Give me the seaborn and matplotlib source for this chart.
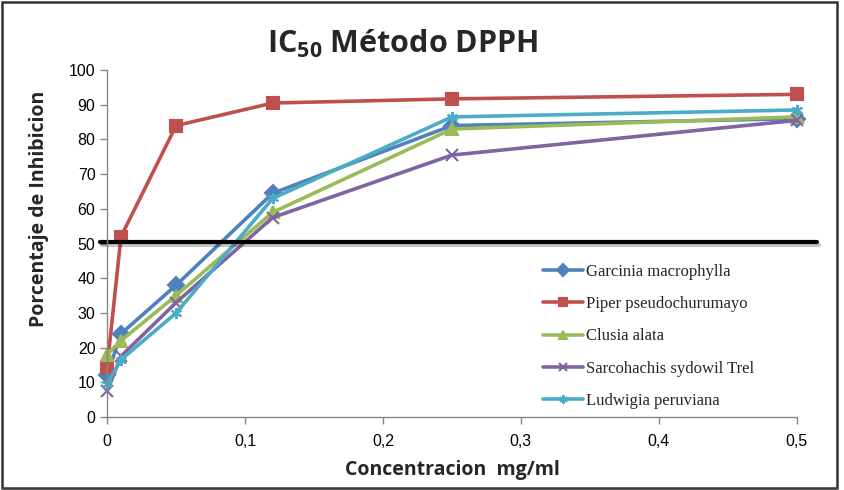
import matplotlib
matplotlib.use('Agg')
import matplotlib.pyplot as plt
import matplotlib.patheffects as pe
import seaborn as sns
import pandas as pd

# concentrations (mg/ml) and % inhibition
conc = [0, 0.01, 0.05, 0.12, 0.25, 0.5]
garcinia = [12, 24, 38, 64.5, 84, 86]
piper = [14.5, 52, 84, 90.5, 91.7, 93]
clusia = [18, 22, 35, 59, 83, 86.5]
sarcohachis = [7.5, 17.5, 33, 57.5, 75.5, 85.5]
ludwigia = [9.5, 16.5, 30, 63, 86.5, 88.5]
species = ["Garcinia macrophylla", "Piper pseudochurumayo", "Clusia alata",
           "Sarcohachis sydowil Trel", "Ludwigia peruviana"]
threshold = 50.5

colors = ["#4F81BD", "#C0504D", "#9BBB59", "#8064A2", "#4BACC6"]
markers = ["D", "s", "^", "x", (6, 2, 0)]

sns.set_theme(style="white")
plt.rcParams['font.family'] = ['Liberation Sans', 'DejaVu Sans']
plt.rcParams['mathtext.fontset'] = 'custom'
plt.rcParams['mathtext.rm'] = 'Open Sans:bold'
plt.rcParams['mathtext.bf'] = 'Open Sans:bold'

fig = plt.figure(figsize=(8.44, 4.9), dpi=100)
ax = fig.add_axes([0.127, 0.149, 0.817, 0.708])

for name, vals, col, mk in zip(species, [garcinia, piper, clusia, sarcohachis, ludwigia],
                               colors, markers):
    d = pd.DataFrame({"Concentracion": conc, "Inhibicion": vals})
    sns.lineplot(data=d, x="Concentracion", y="Inhibicion", color=col, marker=mk,
                 linewidth=2.6, markersize=8, markeredgewidth=1.5,
                 markeredgecolor=col, label=name, ax=ax, clip_on=False)

ax.axhline(threshold, xmin=-0.01, xmax=1.03, color="black", lw=3, clip_on=False,
           path_effects=[pe.SimpleLineShadow(offset=(1, -2), alpha=0.25), pe.Normal()])

ax.set_xlim(0, 0.5)
ax.set_ylim(0, 100)
ax.set_xticks([0, 0.1, 0.2, 0.3, 0.4, 0.5])
ax.set_xticklabels(["0", "0,1", "0,2", "0,3", "0,4", "0,5"])
ax.set_yticks(range(0, 101, 10))
ax.tick_params(axis='both', labelsize=11.5, labelcolor="black", color="#868686",
               length=5, width=1, direction='out', bottom=True, left=True)
ax.tick_params(axis='x', pad=7)
for s in ["top", "right"]:
    ax.spines[s].set_visible(False)
for s in ["left", "bottom"]:
    ax.spines[s].set_color("#868686")
    ax.spines[s].set_linewidth(1)

ax.set_xlabel("Concentracion  mg/ml", fontsize=14, fontweight="bold",
              family="Open Sans", labelpad=8)
ax.set_ylabel("Porcentaje de Inhibicion", fontsize=14, fontweight="bold",
              family="Open Sans")
ax.yaxis.set_label_coords(-0.084, 0.6)
fig.text(0.477, 0.91, r"IC$_{\mathbf{50}}$ Método DPPH", ha="center", va="center",
         fontsize=22, fontweight="bold", family="Open Sans")

leg = ax.legend(loc="upper left", bbox_to_anchor=(0.61, 0.485), frameon=False,
                prop={"family": "Liberation Serif", "size": 12}, handlelength=2.4,
                labelspacing=0.98, handletextpad=0.2, markerscale=0.75)

# outer frame around the whole image
fig.patches.append(plt.Rectangle((0.002, 0.004), 0.99, 0.992, transform=fig.transFigure,
                                 fill=False, edgecolor="#333333", lw=1.8))

plt.savefig("out.png", dpi=100)
plt.close()
